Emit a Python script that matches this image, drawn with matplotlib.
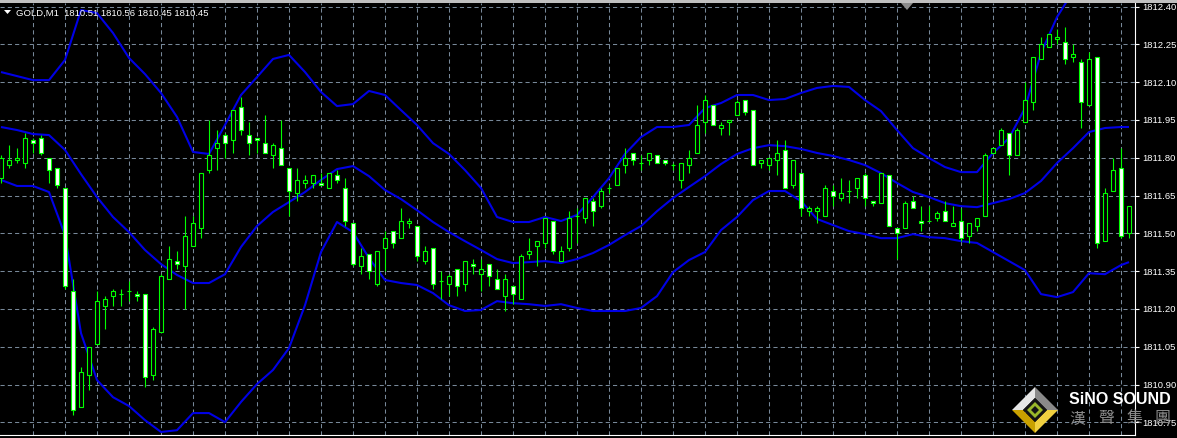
import matplotlib
matplotlib.use('Agg')
import matplotlib.pyplot as plt
from matplotlib.patches import Rectangle, Polygon
import numpy as np

# ---- chart data (GOLD, M1) ----
title = "GOLD,M1  1810.51 1810.56 1810.45 1810.45"

opens = [
    1811.72, 1811.77, 1811.79, 1811.78, 1811.87, 1811.88, 1811.80, 1811.76, 1811.68, 1811.27,
    1810.81, 1810.94, 1811.06, 1811.21, 1811.25, 1811.26, 1811.27, 1811.26, 1811.26, 1810.94,
    1811.11, 1811.32, 1811.39, 1811.37, 1811.45, 1811.52, 1811.75, 1811.84, 1811.89, 1811.87,
    1812.00, 1811.89, 1811.88, 1811.86, 1811.81, 1811.84, 1811.76, 1811.66, 1811.70, 1811.70,
    1811.70, 1811.68, 1811.73, 1811.68, 1811.54, 1811.37, 1811.42, 1811.30, 1811.44, 1811.51,
    1811.48, 1811.54, 1811.53, 1811.39, 1811.44, 1811.31, 1811.30, 1811.36, 1811.30, 1811.38,
    1811.34, 1811.38, 1811.32, 1811.25, 1811.29, 1811.24, 1811.42, 1811.45, 1811.46, 1811.55,
    1811.39, 1811.44, 1811.57, 1811.56, 1811.63, 1811.61, 1811.68, 1811.69, 1811.77, 1811.82,
    1811.78, 1811.79, 1811.81, 1811.79, 1811.77, 1811.71, 1811.77, 1811.82, 1811.94, 1812.01,
    1811.92, 1811.94, 1811.97, 1812.03, 1811.99, 1811.78, 1811.77, 1811.79, 1811.83, 1811.69,
    1811.74, 1811.59, 1811.59, 1811.57, 1811.67, 1811.64, 1811.67, 1811.68, 1811.73, 1811.63,
    1811.62, 1811.73, 1811.52, 1811.52, 1811.63, 1811.55, 1811.55, 1811.56, 1811.59, 1811.53,
    1811.55, 1811.49, 1811.53, 1811.57, 1811.82, 1811.85, 1811.90, 1811.81, 1811.94, 1812.02,
    1812.19, 1812.24, 1812.27, 1812.26, 1812.20, 1812.18, 1812.01, 1812.20, 1811.47, 1811.67,
    1811.76, 1811.50]
highs = [
    1811.81, 1811.85, 1811.84, 1811.90, 1811.88, 1811.89, 1811.80, 1811.76, 1811.68, 1811.32,
    1810.97, 1811.05, 1811.27, 1811.25, 1811.28, 1811.28, 1811.31, 1811.27, 1811.26, 1811.13,
    1811.34, 1811.45, 1811.43, 1811.57, 1811.57, 1811.74, 1811.95, 1811.91, 1811.90, 1811.99,
    1812.04, 1811.94, 1811.88, 1811.97, 1811.86, 1811.95, 1811.76, 1811.76, 1811.73, 1811.73,
    1811.74, 1811.74, 1811.75, 1811.72, 1811.54, 1811.44, 1811.42, 1811.43, 1811.51, 1811.51,
    1811.60, 1811.56, 1811.53, 1811.45, 1811.44, 1811.35, 1811.34, 1811.36, 1811.39, 1811.40,
    1811.40, 1811.38, 1811.36, 1811.34, 1811.29, 1811.42, 1811.48, 1811.47, 1811.56, 1811.55,
    1811.45, 1811.59, 1811.60, 1811.64, 1811.64, 1811.68, 1811.69, 1811.76, 1811.84, 1811.82,
    1811.81, 1811.82, 1811.81, 1811.79, 1811.78, 1811.78, 1811.83, 1812.01, 1812.05, 1812.01,
    1811.94, 1811.95, 1812.03, 1812.03, 1811.99, 1811.79, 1811.80, 1811.87, 1811.87, 1811.79,
    1811.74, 1811.61, 1811.61, 1811.69, 1811.69, 1811.72, 1811.71, 1811.72, 1811.74, 1811.63,
    1811.74, 1811.73, 1811.52, 1811.63, 1811.65, 1811.61, 1811.61, 1811.59, 1811.63, 1811.61,
    1811.60, 1811.54, 1811.56, 1811.82, 1811.84, 1811.92, 1811.90, 1811.92, 1812.10, 1812.20,
    1812.28, 1812.29, 1812.31, 1812.32, 1812.25, 1812.19, 1812.22, 1812.20, 1811.68, 1811.80,
    1811.84, 1811.61]
lows = [
    1811.70, 1811.76, 1811.78, 1811.76, 1811.82, 1811.81, 1811.70, 1811.68, 1811.28, 1810.78,
    1810.81, 1810.88, 1811.06, 1811.12, 1811.21, 1811.21, 1811.23, 1811.23, 1810.89, 1810.92,
    1811.11, 1811.32, 1811.36, 1811.20, 1811.45, 1811.48, 1811.74, 1811.75, 1811.80, 1811.82,
    1811.89, 1811.81, 1811.82, 1811.82, 1811.76, 1811.77, 1811.57, 1811.63, 1811.68, 1811.68,
    1811.69, 1811.68, 1811.70, 1811.53, 1811.37, 1811.34, 1811.32, 1811.29, 1811.35, 1811.44,
    1811.48, 1811.52, 1811.39, 1811.38, 1811.28, 1811.24, 1811.25, 1811.25, 1811.27, 1811.34,
    1811.27, 1811.29, 1811.28, 1811.19, 1811.22, 1811.24, 1811.40, 1811.37, 1811.44, 1811.42,
    1811.39, 1811.43, 1811.46, 1811.54, 1811.53, 1811.60, 1811.66, 1811.69, 1811.74, 1811.77,
    1811.75, 1811.77, 1811.78, 1811.77, 1811.75, 1811.68, 1811.74, 1811.82, 1811.90, 1811.93,
    1811.89, 1811.89, 1811.97, 1811.97, 1811.77, 1811.76, 1811.75, 1811.73, 1811.68, 1811.68,
    1811.57, 1811.57, 1811.54, 1811.57, 1811.61, 1811.63, 1811.62, 1811.64, 1811.61, 1811.61,
    1811.62, 1811.53, 1811.40, 1811.52, 1811.60, 1811.51, 1811.55, 1811.55, 1811.55, 1811.53,
    1811.47, 1811.46, 1811.51, 1811.57, 1811.82, 1811.85, 1811.73, 1811.81, 1811.94, 1811.99,
    1812.19, 1812.24, 1812.25, 1812.17, 1812.18, 1811.92, 1812.01, 1811.44, 1811.47, 1811.67,
    1811.48, 1811.48]
closes = [
    1811.80, 1811.79, 1811.80, 1811.88, 1811.86, 1811.82, 1811.75, 1811.69, 1811.29, 1810.80,
    1810.95, 1811.05, 1811.23, 1811.24, 1811.27, 1811.26, 1811.27, 1811.25, 1810.93, 1811.12,
    1811.33, 1811.40, 1811.38, 1811.49, 1811.54, 1811.74, 1811.81, 1811.86, 1811.86, 1811.99,
    1811.91, 1811.86, 1811.87, 1811.82, 1811.85, 1811.77, 1811.67, 1811.71, 1811.71, 1811.73,
    1811.69, 1811.74, 1811.71, 1811.55, 1811.38, 1811.41, 1811.35, 1811.43, 1811.48, 1811.46,
    1811.55, 1811.55, 1811.41, 1811.43, 1811.30, 1811.31, 1811.33, 1811.29, 1811.39, 1811.37,
    1811.36, 1811.33, 1811.28, 1811.32, 1811.26, 1811.41, 1811.43, 1811.47, 1811.56, 1811.43,
    1811.43, 1811.56, 1811.57, 1811.64, 1811.59, 1811.67, 1811.68, 1811.76, 1811.80, 1811.79,
    1811.78, 1811.82, 1811.78, 1811.78, 1811.77, 1811.78, 1811.80, 1811.93, 1812.03, 1811.93,
    1811.93, 1811.95, 1812.02, 1811.98, 1811.77, 1811.79, 1811.80, 1811.82, 1811.68, 1811.79,
    1811.60, 1811.60, 1811.60, 1811.68, 1811.65, 1811.66, 1811.67, 1811.72, 1811.64, 1811.62,
    1811.74, 1811.53, 1811.50, 1811.62, 1811.60, 1811.54, 1811.55, 1811.58, 1811.55, 1811.54,
    1811.48, 1811.54, 1811.56, 1811.81, 1811.84, 1811.91, 1811.81, 1811.91, 1812.03, 1812.20,
    1812.25, 1812.29, 1812.28, 1812.19, 1812.21, 1812.02, 1812.19, 1811.46, 1811.66, 1811.75,
    1811.49, 1811.61]

# Bollinger band readings, taken every second bar plus the last one
band_bars = list(range(0, 141, 2)) + [141]
bb_upper = [
    1812.140, 1812.124, 1812.108, 1812.108, 1812.188, 1812.386, 1812.374, 1812.295, 1812.196, 1812.132,
    1812.057, 1811.962, 1811.823, 1811.815, 1811.930, 1812.049, 1812.120, 1812.192, 1812.208, 1812.140,
    1812.061, 1812.005, 1812.013, 1812.065, 1812.049, 1811.989, 1811.930, 1811.858, 1811.815, 1811.751,
    1811.680, 1811.565, 1811.545, 1811.545, 1811.565, 1811.549, 1811.573, 1811.644, 1811.719, 1811.815,
    1811.882, 1811.922, 1811.922, 1811.930, 1811.997, 1812.017, 1812.049, 1812.049, 1812.029, 1812.033,
    1812.057, 1812.077, 1812.085, 1812.081, 1812.029, 1811.985, 1811.910, 1811.838, 1811.799, 1811.763,
    1811.743, 1811.743, 1811.819, 1811.878, 1811.997, 1812.215, 1812.358, 1812.460, 1812.500, 1812.520,
    1812.530, 1812.530]
bb_middle = [
    1811.922, 1811.910, 1811.894, 1811.890, 1811.831, 1811.735, 1811.644, 1811.565, 1811.505, 1811.434,
    1811.378, 1811.335, 1811.303, 1811.303, 1811.338, 1811.446, 1811.529, 1811.585, 1811.624, 1811.664,
    1811.712, 1811.755, 1811.767, 1811.727, 1811.672, 1811.636, 1811.592, 1811.545, 1811.505, 1811.469,
    1811.434, 1811.398, 1811.382, 1811.386, 1811.390, 1811.382, 1811.398, 1811.422, 1811.454, 1811.493,
    1811.529, 1811.588, 1811.640, 1811.684, 1811.727, 1811.775, 1811.815, 1811.838, 1811.850, 1811.846,
    1811.835, 1811.819, 1811.807, 1811.791, 1811.771, 1811.739, 1811.700, 1811.664, 1811.644, 1811.620,
    1811.608, 1811.604, 1811.620, 1811.636, 1811.660, 1811.708, 1811.779, 1811.838, 1811.902, 1811.918,
    1811.922, 1811.922]
bb_lower = [
    1811.712, 1811.688, 1811.688, 1811.664, 1811.493, 1811.104, 1810.918, 1810.850, 1810.815, 1810.759,
    1810.712, 1810.719, 1810.787, 1810.787, 1810.751, 1810.831, 1810.902, 1810.958, 1811.045, 1811.215,
    1811.426, 1811.545, 1811.505, 1811.402, 1811.315, 1811.303, 1811.295, 1811.263, 1811.215, 1811.192,
    1811.196, 1811.231, 1811.223, 1811.219, 1811.212, 1811.219, 1811.204, 1811.192, 1811.192, 1811.192,
    1811.204, 1811.251, 1811.346, 1811.394, 1811.426, 1811.513, 1811.565, 1811.632, 1811.668, 1811.668,
    1811.628, 1811.557, 1811.533, 1811.509, 1811.497, 1811.481, 1811.481, 1811.497, 1811.485, 1811.481,
    1811.469, 1811.462, 1811.426, 1811.390, 1811.354, 1811.259, 1811.247, 1811.267, 1811.342, 1811.338,
    1811.374, 1811.386]

price_ticks = [1812.40, 1812.25, 1812.10, 1811.95, 1811.80, 1811.65, 1811.50,
               1811.35, 1811.20, 1811.05, 1810.90, 1810.75]

# ---- colours ----
BULL = '#00ff00'
BAND = '#0000e6'
GRID = '#778899'

W, H = 1177, 438
fig = plt.figure(figsize=(W / 100, H / 100), dpi=100, facecolor='black')
ax = fig.add_axes([0, 3 / H, 1135 / W, 432 / H])
ax.set_facecolor('black')

# Bands
for band in (bb_upper, bb_middle, bb_lower):
    ax.plot(band_bars, band, color=BAND, lw=1.5, zorder=2, solid_capstyle='butt')

# Candles
for i in range(len(opens)):
    o, h, l, c = opens[i], highs[i], lows[i], closes[i]
    ax.vlines(i, l, h, color=BULL, lw=0.8, zorder=3)
    fill = 'white' if c < o else 'black'
    ax.add_patch(Rectangle((i - 0.25, min(o, c)), 0.5, abs(c - o),
                           facecolor=fill, edgecolor=BULL, lw=0.8, zorder=4))

ax.set_xlim(-0.125, 141.75)
ax.set_ylim(1810.700, 1812.414)

# Grid
ax.set_xticks(np.arange(4, 141, 4))
ax.set_yticks(price_ticks)
ax.grid(True, color=GRID, linestyle=(0, (4, 3)), lw=0.75, zorder=1)
ax.set_axisbelow(True)

ax.yaxis.tick_right()
ax.tick_params(axis='x', length=0, labelbottom=False)
ax.tick_params(axis='y', colors='white', length=3, width=0.8, pad=2.5, labelsize=6.8)
ax.set_yticklabels(['%.2f' % p for p in price_ticks], family='Liberation Sans')

for side in ('top', 'left'):
    ax.spines[side].set_visible(False)
for side in ('right', 'bottom'):
    ax.spines[side].set_color('white')
    ax.spines[side].set_linewidth(0.8)

# ---- overlay in pixel space: title, frame bits, logo ----
ov = fig.add_axes([0, 0, 1, 1], zorder=10)
ov.set_xlim(0, W)
ov.set_ylim(H, 0)
ov.axis('off')

ov.add_patch(Rectangle((0, 0), W, 2.5, facecolor='#c0c0c0', lw=0))
ov.add_patch(Polygon([(4, 10), (11, 10), (7.5, 14)], closed=True, facecolor='white', lw=0))
ov.text(16, 13, title, color='white', fontsize=6.8, family='Liberation Sans', va='center', ha='left')
ov.add_patch(Polygon([(901, 3), (913, 3), (907, 10)], closed=True, facecolor='#8c8c8c', lw=0))

# Logo
cx, cy = 1035, 410
ov.add_patch(Polygon([(cx, cy - 23), (cx - 23, cy), (cx - 12, cy), (cx, cy - 12)], facecolor='#e6e6e6', lw=0))
ov.add_patch(Polygon([(cx, cy - 23), (cx + 23, cy), (cx + 12, cy), (cx, cy - 12)], facecolor='#8a8a8a', lw=0))
ov.add_patch(Polygon([(cx - 23, cy), (cx, cy + 23), (cx, cy + 12), (cx - 12, cy)], facecolor='#c9a100', lw=0))
ov.add_patch(Polygon([(cx + 23, cy), (cx, cy + 23), (cx, cy + 12), (cx + 12, cy)], facecolor='#f0d040', lw=0))
ov.add_patch(Polygon([(cx, cy - 12), (cx + 12, cy), (cx, cy + 12), (cx - 12, cy)], facecolor='#141414', lw=0))
ov.add_patch(Polygon([(cx, cy - 8), (cx + 8, cy), (cx, cy + 8), (cx - 8, cy)], facecolor='#9ab82a', lw=0))
ov.add_patch(Polygon([(cx, cy - 4), (cx + 4, cy), (cx, cy + 4), (cx - 4, cy)], facecolor='#141414', lw=0))

ov.text(1120, 399, 'SiNO SOUND', color='white', fontsize=11.5, fontweight='bold',
        family='Liberation Sans', ha='center', va='center')
for ch, x in zip('漢聲集團', (1077, 1106, 1135, 1162)):
    ov.text(x, 419, ch, color='#8c8c8c', fontsize=11.5, family='Noto Sans CJK TC',
            ha='center', va='center')

fig.savefig('out.png', dpi=100, facecolor='black')
